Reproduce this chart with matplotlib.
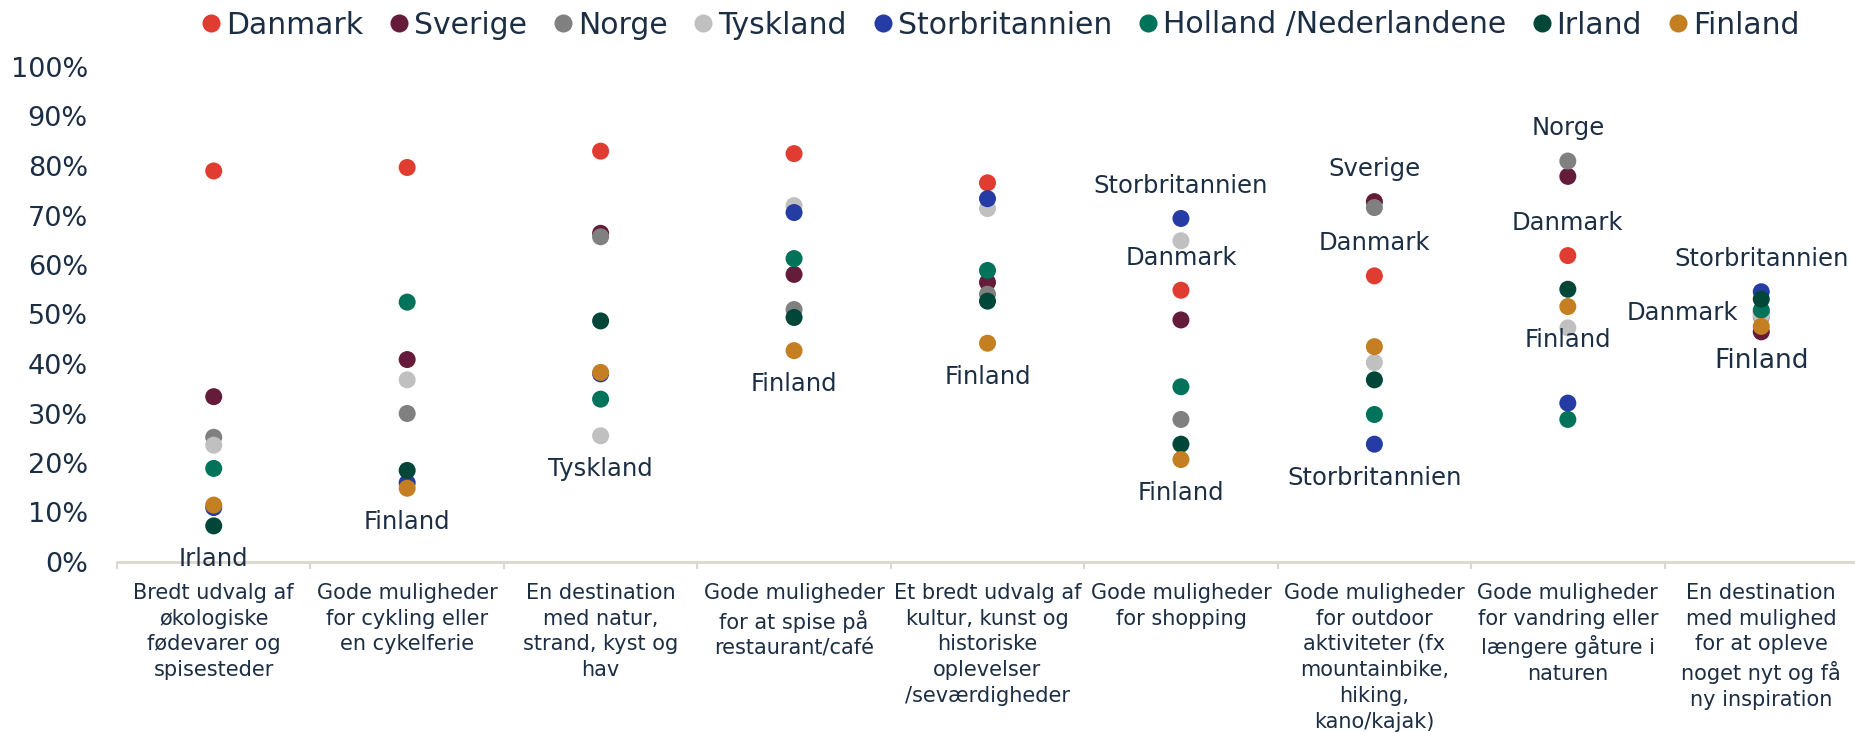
import matplotlib
matplotlib.use("Agg")
import matplotlib.pyplot as plt
from matplotlib.lines import Line2D
from matplotlib.ticker import FixedLocator, PercentFormatter

plt.rcParams["font.family"] = ["DejaVu Sans"]

TEXT = "#1c2e44"
AXIS = "#dcd7cc"

categories = [
    "Bredt udvalg af\nøkologiske\nfødevarer og\nspisesteder",
    "Gode muligheder\nfor cykling eller\nen cykelferie",
    "En destination\nmed natur,\nstrand, kyst og\nhav",
    "Gode muligheder\nfor at spise på\nrestaurant/café",
    "Et bredt udvalg af\nkultur, kunst og\nhistoriske\noplevelser\n/seværdigheder",
    "Gode muligheder\nfor shopping",
    "Gode muligheder\nfor outdoor\naktiviteter (fx\nmountainbike,\nhiking,\nkano/kajak)",
    "Gode muligheder\nfor vandring eller\nlængere gåture i\nnaturen",
    "En destination\nmed mulighed\nfor at opleve\nnoget nyt og få\nny inspiration",
]

countries = ["Danmark", "Sverige", "Norge", "Tyskland", "Storbritannien",
             "Holland /Nederlandene", "Irland", "Finland"]

danmark = [79.0, 79.7, 83.0, 82.5, 76.6, 54.9, 57.8, 61.9, 50.4]
sverige = [33.4, 40.9, 66.4, 58.1, 56.5, 48.9, 72.8, 77.9, 46.5]
norge = [25.2, 30.0, 65.7, 51.0, 54.1, 28.8, 71.6, 81.0, 49.5]
tyskland = [23.6, 36.8, 25.5, 72.0, 71.4, 64.9, 40.3, 47.3, 49.8]
storbritannien = [11.0, 16.0, 38.0, 70.6, 73.4, 69.4, 23.8, 32.1, 54.6]
holland = [18.9, 52.5, 32.9, 61.3, 58.9, 35.4, 29.8, 28.8, 50.9]
irland = [7.3, 18.5, 48.7, 49.4, 52.7, 23.8, 36.8, 55.1, 53.1]
finland = [11.5, 14.9, 38.3, 42.7, 44.2, 20.7, 43.5, 51.6, 47.6]

series = [danmark, sverige, norge, tyskland, storbritannien, holland, irland, finland]
colors = ["#e03c31", "#651c3a", "#808080", "#c0c0c0", "#263ca5",
          "#00735a", "#00473a", "#c47f22"]

# Country name callouts: (category index, series index, placement)
callouts = [
    (0, 6, "below"), (1, 7, "below"), (2, 3, "below"), (3, 7, "below"),
    (4, 7, "below"), (5, 4, "above"), (5, 0, "above"), (5, 7, "below"),
    (6, 1, "above"), (6, 0, "above"), (6, 4, "below"), (7, 2, "above"),
    (7, 0, "above"), (7, 7, "below"), (8, 4, "above"), (8, 0, "left"),
    (8, 7, "below_big"),
]
callout_names = ["Danmark", "Sverige", "Norge", "Tyskland", "Storbritannien",
                 "Holland", "Irland", "Finland"]

W, H = 1855, 732
fig = plt.figure(figsize=(W / 100, H / 100), dpi=100)
ax = fig.add_axes([117 / W, 1 - 562 / H, 1741 / W, 495 / H])

x = list(range(len(categories)))
for vals, col in zip(series, colors):
    ax.scatter(x, [v / 100 for v in vals], s=150, color=col, edgecolors="none",
               zorder=3, clip_on=False)

for ci, si, where in callouts:
    y = series[si][ci] / 100
    name = callout_names[si]
    if where == "above":
        ax.annotate(name, (ci, y), xytext=(0, 23.5), textcoords="offset points",
                    ha="center", va="center", fontsize=17.5, color=TEXT)
    elif where == "below":
        ax.annotate(name, (ci, y), xytext=(0, -24), textcoords="offset points",
                    ha="center", va="center", fontsize=17.5, color=TEXT)
    elif where == "below_big":
        ax.annotate(name, (ci, y), xytext=(0, -25), textcoords="offset points",
                    ha="center", va="center", fontsize=19, color=TEXT)
    else:
        ax.annotate(name, (ci, y), xytext=(-17, 0), textcoords="offset points",
                    ha="right", va="center", fontsize=17.5, color=TEXT)

ax.set_xlim(-0.5, len(categories) - 0.5)
ax.set_ylim(0, 1)

ax.yaxis.set_major_locator(FixedLocator([i / 10 for i in range(11)]))
ax.yaxis.set_major_formatter(PercentFormatter(1.0, decimals=0))
ax.tick_params(axis="y", length=0, pad=21, labelsize=19.5, labelcolor=TEXT)

ax.set_xticks(x)
ax.set_xticklabels(categories, fontsize=15, color=TEXT, linespacing=1.36,
                   va="top", ha="center")
ax.tick_params(axis="x", which="major", length=0, pad=15)
ax.set_xticks([i - 0.5 for i in range(len(categories) + 1)], minor=True)
ax.tick_params(axis="x", which="minor", length=5, width=1.5, color=AXIS,
               direction="out")

for side in ["left", "right", "top"]:
    ax.spines[side].set_visible(False)
ax.spines["bottom"].set_color(AXIS)
ax.spines["bottom"].set_linewidth(2)

handles = [Line2D([], [], marker="o", linestyle="none", markersize=13,
                  markerfacecolor=c, markeredgecolor="none") for c in colors]
fig.legend(handles, countries, loc="center", bbox_to_anchor=(1000 / W, 1 - 25 / H),
           ncol=len(countries), frameon=False, fontsize=21.5, labelcolor=TEXT,
           handlelength=0.7, handletextpad=0.15, columnspacing=0.85,
           borderaxespad=0, borderpad=0)

fig.savefig("out.png", dpi=100)
